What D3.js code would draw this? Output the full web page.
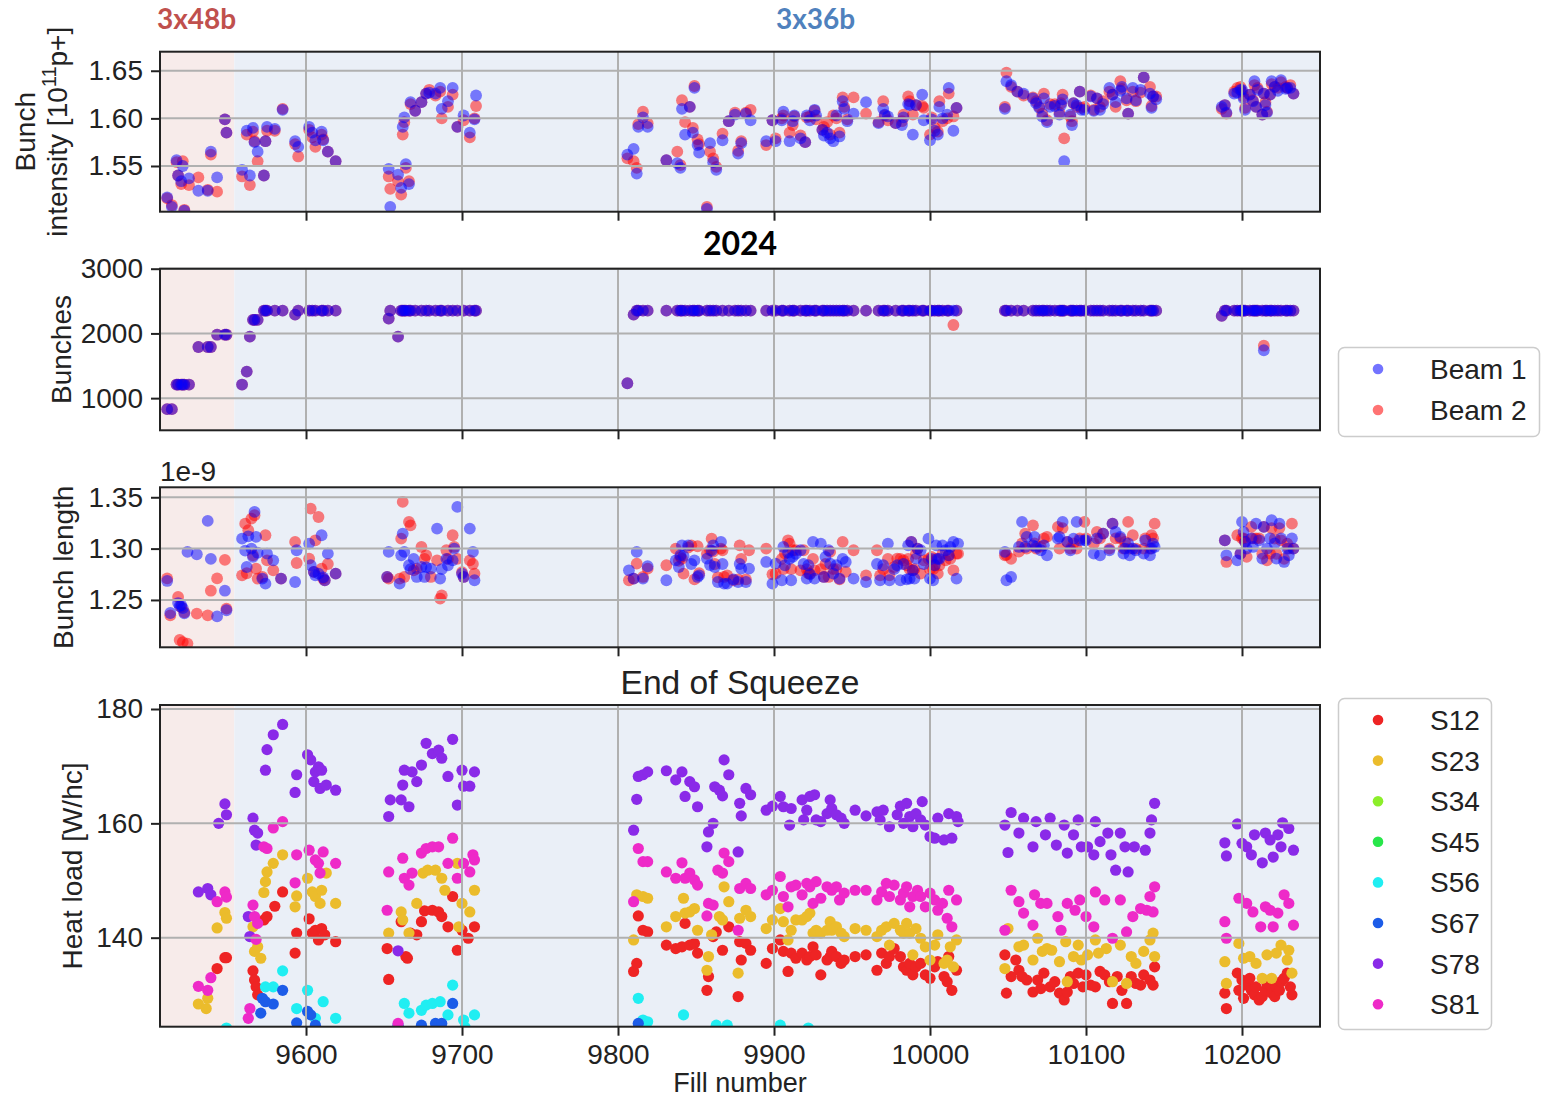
<!DOCTYPE html>
<html>
<head>
<meta charset="utf-8">
<title>LHC 2024 – beam parameters and arc heat loads</title>
<script src="https://cdn.jsdelivr.net/npm/d3@7/dist/d3.min.js"></script>
<style>
  html, body { margin: 0; padding: 0; background: #ffffff; }
  svg { display: block; }
</style>
</head>
<body>
<svg id="chart" width="1544" height="1098"></svg>
<script>
// ---------------------------------------------------------------------------
// Data
// ---------------------------------------------------------------------------
const fillTicks = [9600, 9700, 9800, 9900, 10000, 10100, 10200];
const intensityTicks = [1.55, 1.60, 1.65];
const bunchTicks = [1000, 2000, 3000];
const lengthTicks = [1.25, 1.30, 1.35];
const heatTicks = [140, 160, 180];

// first fill filled with 3x36b trains (earlier fills used 3x48b)
const firstFill36b = 9554;

// [fill, beam 1, beam 2] bunch intensity, 1e11 p
const intensityRows = [
  [9511,1.517,1.516],[9514,1.507,1.509],[9517,1.556,1.554],[9518,1.540,1.540],[9520,1.534,1.531],[9521,1.550,1.555],[9522,1.503,1.504],[9525,1.537,1.530],[9531,1.524,1.538],[9537,1.524,1.525],[9539,1.565,1.562],[9543,1.538,1.523],[9548,1.599,1.599],[9549,1.585,1.585],
  [9559,1.546,1.539],[9562,1.587,1.583],[9564,1.540,1.530],[9566,1.590,1.586],[9567,1.575,1.576],[9569,1.565,1.555],[9573,1.540,1.540],[9574,1.576,1.576],[9575,1.591,1.587],[9580,1.589,1.587],[9585,1.609,1.610],[9593,1.576,1.573],[9595,1.570,1.560],
  [9602,1.591,1.588],[9604,1.585,1.580],[9606,1.577,1.570],[9610,1.586,1.583],[9611,1.577,1.578],[9614,1.565,1.565],[9619,1.555,1.555],
  [9653,1.547,1.539],[9654,1.507,1.526],[9659,1.541,1.534],[9661,1.527,1.520],[9662,1.591,1.583],[9663,1.601,1.596],[9664,1.552,1.548],[9666,1.531,1.534],[9667,1.617,1.615],[9670,1.608,1.608],[9674,1.617,1.617],[9677,1.626,1.626],[9679,1.627,1.630],[9683,1.626,1.624],[9686,1.632,1.628],[9687,1.610,1.600],[9691,1.618,1.612],[9694,1.632,1.625],[9697,1.591,1.591],[9701,1.603,1.598],[9705,1.585,1.580],[9708,1.599,1.600],[9709,1.624,1.613],
  [9806,1.562,1.558],[9810,1.568,1.555],[9812,1.542,1.548],[9813,1.591,1.594],[9816,1.601,1.607],[9819,1.591,1.595],[9831,1.556,1.556],[9838,1.553,1.565],[9840,1.548,1.551],[9841,1.610,1.619],[9843,1.583,1.596],[9846,1.612,1.612],[9848,1.585,1.590],[9849,1.632,1.634],[9851,1.572,1.578],[9852,1.564,1.573],[9857,1.505,1.507],[9859,1.574,1.565],[9861,1.554,1.558],[9863,1.546,1.549],[9867,1.577,1.584],[9871,1.597,1.597],[9875,1.604,1.606],[9877,1.563,1.566],[9879,1.574,1.576],[9882,1.605,1.606],[9885,1.598,1.609],
  [9895,1.576,1.572],[9899,1.598,1.598],[9901,1.576,1.579],[9905,1.598,1.600],[9906,1.607,1.603],[9910,1.576,1.585],[9912,1.597,1.593],[9913,1.603,1.602],[9917,1.579,1.582],[9920,1.575,1.575],[9921,1.603,1.601],[9923,1.598,1.602],[9926,1.609,1.608],[9927,1.603,1.599],[9931,1.588,1.588],[9932,1.582,1.591],[9934,1.585,1.596],[9936,1.579,1.583],[9938,1.576,1.603],[9940,1.603,1.600],[9942,1.581,1.585],[9944,1.618,1.622],[9945,1.610,1.612],[9947,1.597,1.599],[9951,1.605,1.622],
  [9959,1.617,1.605],[9967,1.595,1.596],[9970,1.610,1.618],[9971,1.604,1.603],[9973,1.602,1.598],[9978,1.595,1.595],[9982,1.593,1.597],[9983,1.601,1.604],[9986,1.615,1.623],[9987,1.614,1.618],[9989,1.583,1.604],[9991,1.614,1.614],[9995,1.625,1.613],[9996,1.598,1.611],[10000,1.577,1.583],[10001,1.599,1.601],[10003,1.587,1.590],[10005,1.583,1.586],[10006,1.612,1.618],[10008,1.600,1.597],[10011,1.604,1.600],[10012,1.632,1.626],[10015,1.587,1.602],[10017,1.611,1.611],
  [10048,1.610,1.612],[10049,1.639,1.648],[10052,1.635,1.633],[10056,1.628,1.628],[10060,1.626,1.624],[10066,1.621,1.622],[10068,1.616,1.618],[10070,1.611,1.612],[10072,1.602,1.605],[10073,1.621,1.626],[10075,1.596,1.598],[10077,1.612,1.615],[10080,1.613,1.615],[10083,1.604,1.606],[10084,1.614,1.616],[10085,1.620,1.625],[10086,1.555,1.579],[10090,1.604,1.602],[10091,1.593,1.597],[10092,1.616,1.616],[10094,1.614,1.612],[10096,1.628,1.628],[10097,1.609,1.611],[10099,1.609,1.612],[10103,1.623,1.624],[10105,1.608,1.609],[10107,1.621,1.621],[10109,1.609,1.612],[10111,1.615,1.618],[10115,1.632,1.628],[10117,1.625,1.625],[10119,1.617,1.612],[10122,1.629,1.639],[10123,1.633,1.631],[10126,1.621,1.619],[10127,1.605,1.605],[10130,1.632,1.628],[10132,1.619,1.618],[10135,1.630,1.627],[10137,1.643,1.643],[10141,1.626,1.633],[10142,1.611,1.613],[10143,1.623,1.623],[10145,1.620,1.623],
  [10187,1.612,1.610],[10189,1.614,1.614],[10190,1.606,1.605],[10195,1.626,1.628],[10197,1.627,1.632],[10199,1.630,1.633],[10200,1.630,1.628],[10201,1.621,1.623],[10202,1.609,1.611],[10205,1.625,1.625],[10207,1.618,1.619],[10208,1.639,1.635],[10209,1.612,1.612],[10210,1.630,1.632],[10213,1.604,1.604],[10214,1.626,1.626],[10215,1.614,1.617],[10216,1.606,1.607],[10218,1.625,1.625],[10219,1.639,1.636],[10221,1.633,1.633],[10223,1.629,1.632],[10225,1.640,1.638],[10228,1.631,1.633],[10229,1.632,1.632],[10231,1.632,1.635],[10233,1.626,1.626]
];

// [fill, beam 1, beam 2] number of bunches
const bunchRows = [
  [9511,830,830],[9514,830,830],[9517,1210,1210],[9518,1210,1210],[9520,1210,1210],[9521,1210,1210],[9522,1210,1210],[9525,1210,1210],[9531,1790,1790],[9537,1790,1790],[9539,1790,1790],[9543,1980,1980],[9548,1980,1980],[9549,1980,1980],
  [9559,1210,1210],[9562,1410,1410],[9564,1950,1950],[9566,2210,2210],[9567,2210,2210],[9569,2210,2210],[9573,2352,2352],[9574,2352,2352],[9575,2352,2352],[9580,2352,2352],[9585,2352,2352],[9593,2290,2290],[9595,2352,2352],
  [9602,2352,2352],[9604,2352,2352],[9606,2352,2352],[9610,2352,2352],[9611,2352,2352],[9614,2352,2352],[9619,2352,2352],
  [9653,2230,2230],[9654,2352,2352],[9659,1950,1950],[9661,2352,2352],[9662,2352,2352],[9663,2352,2352],[9664,2352,2352],[9666,2352,2352],[9667,2352,2352],[9670,2352,2352],[9674,2352,2352],[9677,2352,2352],[9679,2352,2352],[9683,2352,2352],[9686,2352,2352],[9687,2352,2352],[9691,2352,2352],[9694,2352,2352],[9697,2352,2352],[9701,2352,2352],[9705,2352,2352],[9708,2352,2352],[9709,2352,2352],
  [9806,1230,1230],[9810,2290,2290],[9812,2352,2352],[9813,2352,2352],[9816,2352,2352],[9819,2352,2352],[9831,2352,2352],[9838,2352,2352],[9840,2352,2352],[9841,2352,2352],[9843,2352,2352],[9846,2352,2352],[9848,2352,2352],[9849,2352,2352],[9851,2352,2352],[9852,2352,2352],[9857,2352,2352],[9859,2352,2352],[9861,2352,2352],[9863,2352,2352],[9867,2352,2352],[9871,2352,2352],[9875,2352,2352],[9877,2352,2352],[9879,2352,2352],[9882,2352,2352],[9885,2352,2352],
  [9895,2352,2352],[9899,2352,2352],[9901,2352,2352],[9905,2352,2352],[9906,2352,2352],[9910,2352,2352],[9912,2352,2352],[9913,2352,2352],[9917,2352,2352],[9920,2352,2352],[9921,2352,2352],[9923,2352,2352],[9926,2352,2352],[9927,2352,2352],[9931,2352,2352],[9932,2352,2352],[9934,2352,2352],[9936,2352,2352],[9938,2352,2352],[9940,2352,2352],[9942,2352,2352],[9944,2352,2352],[9945,2352,2352],[9947,2352,2352],[9951,2352,2352],
  [9959,2352,2352],[9967,2352,2352],[9970,2352,2352],[9971,2352,2352],[9973,2352,2352],[9978,2352,2352],[9982,2352,2352],[9983,2352,2352],[9986,2352,2352],[9987,2352,2352],[9989,2352,2352],[9991,2352,2352],[9995,2352,2352],[9996,2352,2352],[10000,2352,2352],[10001,2352,2352],[10003,2352,2352],[10005,2352,2352],[10006,2352,2352],[10008,2352,2352],[10011,2352,2352],[10012,2352,2352],[10015,2352,2130],[10017,2352,2352],
  [10048,2352,2352],[10049,2352,2352],[10052,2352,2352],[10056,2352,2352],[10060,2352,2352],[10066,2352,2352],[10068,2352,2352],[10070,2352,2352],[10072,2352,2352],[10073,2352,2352],[10075,2352,2352],[10077,2352,2352],[10080,2352,2352],[10083,2352,2352],[10084,2352,2352],[10085,2352,2352],[10086,2352,2352],[10090,2352,2352],[10091,2352,2352],[10092,2352,2352],[10094,2352,2352],[10096,2352,2352],[10097,2352,2352],[10099,2352,2352],[10103,2352,2352],[10105,2352,2352],[10107,2352,2352],[10109,2352,2352],[10111,2352,2352],[10115,2352,2352],[10117,2352,2352],[10119,2352,2352],[10122,2352,2352],[10123,2352,2352],[10126,2352,2352],[10127,2352,2352],[10130,2352,2352],[10132,2352,2352],[10135,2352,2352],[10137,2352,2352],[10141,2352,2352],[10142,2352,2352],[10143,2352,2352],[10145,2352,2352],
  [10187,2270,2270],[10189,2352,2352],[10190,2352,2352],[10195,2352,2352],[10197,2352,2352],[10199,2352,2352],[10200,2352,2352],[10201,2352,2352],[10202,2352,2352],[10205,2352,2352],[10207,2352,2352],[10208,2352,2352],[10209,2352,2352],[10210,2352,2352],[10213,2352,2352],[10214,1740,1810],[10215,2352,2352],[10216,2352,2352],[10218,2352,2352],[10219,2352,2352],[10221,2352,2352],[10223,2352,2352],[10225,2352,2352],[10228,2352,2352],[10229,2352,2352],[10231,2352,2352],[10233,2352,2352]
];

// [fill, beam 1, beam 2] bunch length, ns (axis shows seconds with a 1e-9 offset)
const lengthRows = [
  [9511,1.2685,1.271],[9513,1.2373,1.235],[9518,1.247,1.253],[9519,1.244,1.211],[9520,1.245,1.243],[9521,1.242,1.209],[9522,1.237,1.238],[9524,1.2968,1.2075],[9530,1.2945,1.2367],[9537,1.327,1.235],[9539,1.290,1.259],[9543,1.234,1.271],[9548,1.259,1.289],[9549,1.240,1.2415],
  [9559,1.3097,1.274],[9561,1.298,1.3243],[9562,1.2821,1.276],[9563,1.312,1.3179],[9565,1.300,1.3292],[9566,1.2919,1.2935],[9567,1.3357,1.3325],[9568,1.3114,1.2805],[9569,1.296,1.2708],[9572,1.2708,1.2724],[9574,1.2659,1.313],[9575,1.2951,1.2886],[9579,1.2886,1.2789],[9584,1.2708,1.2708],[9593,1.2675,1.3065],[9594,1.2984,1.286],
  [9602,1.3049,1.2903],[9603,1.2838,1.339],[9605,1.2773,1.2773],[9606,1.274,1.3081],[9608,1.2756,1.3308],[9610,1.313,1.2805],[9611,1.272,1.2708],[9612,1.2692,1.2692],[9614,1.2951,1.285],[9619,1.2756,1.2756],
  [9652,1.2724,1.2724],[9653,1.2968,1.2708],[9660,1.2659,1.2708],[9661,1.2935,1.3097],[9662,1.3146,1.3455],[9663,1.2968,1.2724],[9666,1.2838,1.326],[9667,1.280,1.3227],[9669,1.290,1.2789],[9671,1.2724,1.2805],[9674,1.2821,1.3016],[9676,1.2724,1.290],[9677,1.282,1.2935],[9680,1.2805,1.2724],[9684,1.3195,1.2886],[9686,1.2708,1.2513],[9687,1.280,1.2545],[9690,1.290,1.2984],[9691,1.2838,1.290],[9694,1.2886,1.313],[9695,1.300,1.3016],[9697,1.3406,1.290],[9700,1.2756,1.277],[9701,1.2724,1.2724],[9705,1.3195,1.2886],[9707,1.2968,1.285],[9708,1.2692,1.2756],
  [9807,1.2789,1.2692],[9810,1.2708,1.2708],[9812,1.2968,1.2854],[9816,1.2708,1.2724],[9819,1.2828,1.2805],[9831,1.2692,1.2838],
  [9837,1.2886,1.300],[9839,1.2821,1.288],[9840,1.2935,1.292],[9841,1.3032,1.290],[9842,1.293,1.2756],[9845,1.3032,1.301],[9847,1.285,1.3032],[9849,1.2886,1.270],[9851,1.2724,1.3023],[9852,1.274,1.276],[9857,1.2903,1.295],[9859,1.284,1.2984],[9860,1.298,1.3097],[9861,1.3032,1.297],[9862,1.2821,1.285],[9864,1.2675,1.272],[9866,1.3065,1.300],[9867,1.285,1.2984],[9868,1.2659,1.2724],[9870,1.2659,1.274],[9874,1.270,1.2692],[9877,1.2675,1.270],[9878,1.285,1.3032],[9879,1.2805,1.290],[9882,1.2675,1.270],[9884,1.2805,1.2984],
  [9895,1.287,1.300],[9899,1.2659,1.275],[9901,1.2854,1.2756],[9905,1.2692,1.290],[9906,1.3016,1.280],[9907,1.2838,1.2955],[9909,1.296,1.3081],[9910,1.290,1.3049],[9911,1.2692,1.280],[9912,1.2919,1.2984],[9914,1.295,1.2984],[9917,1.2984,1.2789],[9919,1.285,1.2984],[9921,1.2708,1.280],[9922,1.2838,1.276],[9923,1.275,1.2756],[9925,1.3065,1.290],[9926,1.2708,1.2789],[9930,1.3049,1.280],[9932,1.2724,1.2724],[9933,1.2919,1.285],[9935,1.2984,1.2724],[9936,1.2854,1.2968],[9938,1.2756,1.280],[9940,1.2838,1.280],[9942,1.2708,1.270],[9944,1.290,1.3065],[9946,1.287,1.2773],[9951,1.2708,1.2984],
  [9959,1.2675,1.274],[9966,1.285,1.2984],[9968,1.2692,1.274],[9970,1.2838,1.280],[9973,1.3049,1.290],[9974,1.2692,1.274],[9977,1.280,1.2821],[9979,1.2838,1.2903],[9981,1.2692,1.290],[9983,1.285,1.2886],[9985,1.270,1.2838],[9986,1.3032,1.290],[9987,1.2708,1.280],[9988,1.3065,1.3065],[9989,1.2789,1.2789],[9990,1.2708,1.280],[9991,1.2903,1.295],[9992,1.300,1.300],[9994,1.2984,1.2756],[9996,1.285,1.2886],[9999,1.3097,1.290],[10000,1.2708,1.280],[10001,1.290,1.2919],[10002,1.2692,1.280],[10003,1.2838,1.2838],[10004,1.3032,1.290],[10005,1.290,1.2756],[10006,1.290,1.2838],[10008,1.3032,1.295],[10010,1.2984,1.2886],[10012,1.2935,1.2935],[10013,1.3016,1.290],[10015,1.3065,1.2789],[10017,1.2708,1.2951],[10018,1.3049,1.2951],
  [10048,1.2968,1.2935],[10049,1.2692,1.294],[10052,1.2724,1.290],[10057,1.3016,1.297],[10059,1.326,1.305],[10061,1.3016,1.3146],[10062,1.3114,1.300],[10066,1.3032,1.3227],[10067,1.3114,1.305],[10068,1.3016,1.300],[10071,1.2984,1.302],[10073,1.3032,1.310],[10075,1.2935,1.3114],[10082,1.3097,1.3211],[10083,1.3114,1.300],[10085,1.326,1.320],[10088,1.3065,1.3065],[10090,1.2984,1.300],[10092,1.3097,1.305],[10094,1.326,1.300],[10096,1.3081,1.310],[10099,1.3081,1.326],[10100,1.3081,1.310],[10105,1.2951,1.305],[10107,1.310,1.3162],[10109,1.2935,1.310],[10111,1.3146,1.3146],[10115,1.2984,1.300],[10117,1.3243,1.3243],[10119,1.3162,1.310],[10122,1.3114,1.310],[10124,1.2951,1.300],[10125,1.300,1.3065],[10127,1.305,1.326],[10128,1.2935,1.300],[10130,1.300,1.313],[10132,1.2984,1.300],[10137,1.2951,1.300],[10138,1.3081,1.310],[10141,1.2935,1.300],[10142,1.300,1.313],[10143,1.3049,1.310],[10144,1.3016,1.3243],
  [10189,1.3081,1.3081],[10190,1.2935,1.287],[10197,1.2886,1.313],[10199,1.295,1.2951],[10200,1.326,1.310],[10201,1.3162,1.310],[10202,1.3065,1.3065],[10203,1.300,1.2919],[10206,1.310,1.3211],[10207,1.3016,1.310],[10209,1.3243,1.310],[10211,1.3081,1.310],[10213,1.2903,1.295],[10214,1.3211,1.3211],[10216,1.300,1.2886],[10218,1.310,1.2951],[10219,1.3276,1.320],[10221,1.305,1.3097],[10222,1.2903,1.295],[10224,1.3243,1.320],[10225,1.310,1.3081],[10227,1.287,1.290],[10229,1.300,1.3049],[10230,1.2935,1.300],[10232,1.310,1.3243],[10233,1.300,1.300]
];

// Heat load per arc sector at end of squeeze, [fill, W/half-cell]
const heatS12 = [
  [9543,134.6],[9548,136.5],[9549,136.5],[9566,134.2],[9567,132.6],[9568,131.4],[9569,130.0],[9573,143.1],[9575,143.7],[9580,145.5],[9585,148.0],[9593,137.3],[9594,140.8],[9602,143.3],[9604,140.8],[9606,141.3],[9608,139.6],[9610,141.6],[9612,140.5],[9619,139.3],
  [9652,138.1],[9653,132.7],[9661,142.8],[9664,136.7],[9665,136.4],[9667,140.8],[9671,140.5],[9674,142.8],[9676,144.7],[9681,144.8],[9685,144.5],[9687,143.7],[9691,141.9],[9694,147.2],[9697,137.8],[9700,141.3],[9704,139.9],[9708,141.9],
  [9810,134.1],[9812,135.5],[9813,143.8],[9816,141.3],[9819,141.0],[9831,138.7],[9837,138.1],[9841,138.4],[9843,142.5],[9846,138.7],[9849,139.0],[9851,137.3],[9857,130.8],[9858,133.2],[9861,140.2],[9863,141.0],[9867,137.8],[9871,141.9],[9877,129.7],[9878,139.3],[9879,136.1],[9882,139.0],[9885,137.8],
  [9895,135.5],[9899,138.1],[9904,139.6],[9906,137.6],[9909,134.1],[9911,137.3],[9914,136.4],[9918,137.3],[9921,136.1],[9923,136.7],[9925,138.4],[9927,137.0],[9930,133.5],[9934,136.1],[9936,136.7],[9937,137.6],[9940,136.7],[9943,135.5],[9945,136.1],[9952,136.7],[9959,137.0],[9966,134.3],[9969,137.3],[9972,135.5],[9974,136.7],[9977,138.1],[9981,136.7],[9983,134.9],[9985,134.3],[9987,135.5],[9989,133.5],[9991,134.9],[9994,135.5],[9997,133.5],[10000,132.9],[10003,134.9],[10005,135.8],[10009,133.2],[10011,132.3],[10012,136.7],[10014,130.8],[10017,134.3],
  [10048,137.0],[10049,130.3],[10052,133.2],[10055,136.1],[10057,134.3],[10059,133.2],[10062,132.6],[10066,130.5],[10069,132.6],[10071,131.1],[10073,133.8],[10077,131.4],[10080,132.3],[10083,130.3],[10086,129.1],[10088,130.5],[10090,133.2],[10092,132.0],[10095,133.8],[10098,131.4],[10100,133.5],[10103,131.7],[10106,131.4],[10109,134.1],[10112,133.5],[10115,132.3],[10117,128.5],[10120,133.2],[10123,130.8],[10126,128.5],[10129,133.2],[10132,132.0],[10135,131.7],[10137,133.5],[10141,132.6],[10143,131.7],[10144,134.9],
  [10189,130.3],[10190,127.6],[10197,133.8],[10198,130.8],[10200,132.6],[10201,129.4],[10203,131.7],[10205,132.9],[10206,130.8],[10208,130.0],[10209,131.4],[10211,129.1],[10213,129.7],[10215,130.8],[10216,132.0],[10218,131.7],[10219,130.3],[10221,129.7],[10222,131.4],[10224,130.8],[10225,132.3],[10227,132.9],[10229,133.8],[10231,131.4],[10232,130.0]
];
const heatS23 = [
  [9531,128.4],[9536,127.6],[9537,129.4],[9543,141.7],[9548,144.4],[9549,143.4],[9566,141.9],[9567,137.6],[9569,138.4],[9571,136.4],[9573,147.9],[9574,149.8],[9575,151.5],[9579,153.0],[9585,154.5],[9593,145.4],[9594,147.3],[9601,150.4],[9604,148.0],[9606,147.2],[9609,146.0],[9610,148.3],[9613,151.3],[9619,146.0],
  [9653,140.8],[9661,144.5],[9662,143.1],[9666,140.8],[9671,146.0],[9675,151.3],[9678,151.8],[9683,151.8],[9687,150.4],[9689,148.3],[9697,153.0],[9698,141.9],[9700,146.0],[9705,144.5],[9708,148.3],
  [9810,139.6],[9812,147.5],[9816,147.2],[9819,146.9],[9831,141.9],[9837,143.7],[9842,146.9],[9843,144.3],[9846,144.5],[9849,145.1],[9851,141.3],[9857,134.3],[9858,136.7],[9860,140.5],[9865,143.7],[9867,143.1],[9868,148.9],[9871,146.3],[9877,133.8],[9878,143.4],[9882,144.8],[9885,143.7],
  [9895,141.6],[9899,143.1],[9904,145.1],[9906,142.8],[9909,139.6],[9911,141.3],[9914,143.1],[9918,143.1],[9921,143.7],[9923,144.3],[9925,140.8],[9927,141.3],[9930,140.8],[9934,141.3],[9936,142.8],[9937,141.3],[9940,141.9],[9943,140.8],[9945,140.2],[9952,141.6],[9959,141.3],[9966,140.2],[9969,141.3],[9972,141.9],[9974,138.7],[9977,142.5],[9981,141.3],[9983,140.8],[9985,142.5],[9987,140.8],[9989,137.0],[9991,141.6],[9994,139.9],[9997,138.4],[10000,136.1],[10003,138.7],[10005,140.5],[10009,135.5],[10011,136.1],[10013,138.4],[10015,134.9],[10017,139.6],
  [10048,134.6],[10050,141.6],[10057,138.4],[10060,138.7],[10066,136.1],[10069,139.9],[10072,137.6],[10075,138.1],[10078,137.8],[10083,135.8],[10087,139.3],[10088,132.3],[10092,136.7],[10095,138.7],[10097,136.1],[10101,137.0],[10106,139.6],[10108,137.3],[10113,138.1],[10117,132.3],[10122,138.7],[10126,132.0],[10129,136.7],[10132,135.5],[10137,137.6],[10141,139.6],[10143,140.8],[10144,136.7],
  [10189,135.8],[10190,132.0],[10198,139.0],[10201,136.4],[10205,136.7],[10209,135.5],[10213,132.9],[10216,137.0],[10219,132.9],[10222,137.3],[10225,138.7],[10229,136.1],[10230,137.8],[10232,133.8]
];
// S34 and S45 have no points inside the plotted window
const heatS34 = [];
const heatS45 = [];
const heatS56 = [
  [9549,124.2],[9574,131.4],[9579,131.4],[9585,134.2],[9594,127.6],[9601,130.8],[9606,125.9],[9611,128.8],[9619,125.9],
  [9663,128.5],[9666,126.8],[9674,127.3],[9677,128.2],[9681,128.5],[9686,128.8],[9691,126.5],[9694,131.7],[9701,125.6],[9702,124.3],[9708,126.5],
  [9813,129.4],[9816,125.6],[9819,125.3],[9842,126.5],[9863,124.7],[9870,124.7],[9904,124.7],[9922,124.2]
];
const heatS67 = [
  [9571,126.8],[9572,129.4],[9574,128.8],[9579,128.4],[9585,130.8],[9594,125.1],[9601,127.1],[9603,126.5],[9606,124.7],
  [9659,124.7],[9674,124.7],[9683,125.0],[9687,125.0],[9694,128.5],[9813,125.0]
];
const heatS78 = [
  [9531,148.0],[9537,148.6],[9539,147.5],[9544,160.0],[9548,163.4],[9549,161.5],[9563,143.7],[9564,140.2],[9566,160.9],[9567,158.8],[9568,156.2],[9569,158.3],[9574,169.3],[9575,172.9],[9579,175.5],[9585,177.3],[9593,165.4],[9594,168.5],[9601,172.0],[9603,171.1],[9605,167.3],[9606,169.0],[9608,169.9],[9609,166.1],[9610,169.3],[9613,166.7],[9619,165.8],
  [9653,161.2],[9654,164.1],[9659,137.7],[9661,164.1],[9662,166.7],[9663,169.3],[9666,162.9],[9668,169.0],[9671,167.3],[9674,170.2],[9677,174.0],[9681,172.2],[9685,172.8],[9687,171.4],[9691,168.2],[9694,174.7],[9697,163.2],[9700,169.3],[9701,166.5],[9705,166.5],[9708,169.0],
  [9810,158.8],[9812,164.2],[9813,168.2],[9816,168.5],[9819,169.0],[9831,169.2],[9837,167.6],[9841,169.0],[9843,164.7],[9846,167.3],[9849,166.4],[9851,162.9],[9857,155.9],[9858,158.5],[9861,160.0],[9862,166.4],[9865,165.8],[9867,164.8],[9868,171.1],[9871,168.5],[9877,155.0],[9878,163.5],[9879,161.3],[9882,166.1],[9885,165.0],
  [9895,162.3],[9899,163.0],[9904,164.7],[9906,162.9],[9910,159.7],[9911,162.6],[9918,164.1],[9919,160.6],[9921,162.3],[9923,164.7],[9926,165.0],[9927,160.6],[9930,160.3],[9934,161.7],[9936,164.1],[9937,162.6],[9940,161.5],[9943,160.9],[9945,160.0],[9952,162.3],[9959,161.3],[9966,162.0],[9968,160.6],[9970,162.3],[9974,159.4],[9979,161.5],[9981,163.0],[9983,160.0],[9985,163.5],[9987,161.2],[9989,159.4],[9991,161.7],[9994,160.6],[9995,163.8],[9997,159.7],[10000,157.7],[10003,157.4],[10005,160.9],[10009,157.1],[10012,161.7],[10014,157.4],[10017,161.2],[10018,160.3],
  [10048,159.7],[10050,154.9],[10052,161.9],[10057,158.3],[10060,160.9],[10066,155.9],[10068,160.3],[10074,158.0],[10077,160.9],[10081,156.2],[10086,159.7],[10088,154.8],[10092,158.0],[10095,160.6],[10097,155.9],[10101,155.9],[10105,154.5],[10106,160.3],[10109,156.8],[10114,158.3],[10116,154.5],[10119,151.8],[10122,158.3],[10125,155.9],[10127,151.5],[10131,155.9],[10138,155.3],[10141,158.3],[10142,160.6],[10144,163.5],
  [10189,156.6],[10190,154.3],[10197,159.9],[10200,156.5],[10203,155.9],[10206,154.5],[10208,158.0],[10213,153.1],[10215,158.3],[10218,157.1],[10220,154.1],[10223,158.0],[10225,155.9],[10226,160.1],[10230,159.1],[10233,155.3]
];
const heatS81 = [
  [9531,131.5],[9537,130.8],[9539,133.0],[9543,146.3],[9548,148.0],[9549,147.1],[9563,125.9],[9564,127.6],[9566,145.7],[9567,143.7],[9568,139.7],[9569,142.5],[9573,155.9],[9575,155.6],[9579,159.2],[9585,160.3],[9593,149.6],[9594,154.5],[9602,155.3],[9606,153.6],[9608,153.0],[9609,151.3],[9611,155.0],[9619,153.0],
  [9652,144.8],[9653,151.5],[9659,125.0],[9662,153.9],[9663,150.4],[9666,149.2],[9668,151.3],[9674,154.8],[9677,155.6],[9681,155.9],[9685,155.9],[9691,153.0],[9694,157.4],[9697,150.4],[9701,153.0],[9705,151.5],[9707,154.5],[9708,153.6],
  [9810,146.3],[9813,155.6],[9816,153.3],[9819,153.3],[9831,151.5],[9837,150.4],[9841,153.1],[9843,150.4],[9846,151.3],[9849,150.1],[9851,149.2],[9857,143.8],[9858,146.0],[9861,145.7],[9864,151.8],[9867,151.3],[9868,154.8],[9871,153.3],[9877,141.3],[9878,148.6],[9882,149.5],[9885,148.6],
  [9895,147.5],[9899,148.3],[9904,150.7],[9906,147.2],[9909,145.4],[9911,148.9],[9914,149.2],[9918,147.5],[9921,149.5],[9923,148.9],[9925,146.0],[9927,149.8],[9930,146.9],[9934,148.9],[9937,148.3],[9940,148.9],[9942,146.6],[9945,147.8],[9952,148.3],[9959,148.3],[9966,146.6],[9969,148.0],[9972,149.5],[9974,147.2],[9977,149.2],[9981,146.6],[9983,147.8],[9985,148.9],[9987,145.4],[9989,147.2],[9992,148.3],[9994,147.2],[9997,145.4],[10000,147.8],[10003,146.6],[10005,144.8],[10008,146.0],[10011,143.4],[10012,148.3],[10014,141.9],[10017,146.6],
  [10048,141.3],[10052,148.3],[10057,146.3],[10060,144.3],[10066,142.2],[10067,147.5],[10071,146.0],[10075,146.0],[10082,143.7],[10084,141.3],[10088,146.0],[10093,144.8],[10096,146.6],[10100,143.7],[10105,141.9],[10106,148.0],[10112,146.6],[10117,139.9],[10122,146.6],[10126,141.0],[10130,143.7],[10135,145.1],[10139,144.8],[10141,147.2],[10143,144.5],[10144,148.9],
  [10189,142.8],[10190,139.9],[10198,146.9],[10203,146.0],[10207,144.5],[10212,141.9],[10215,145.4],[10218,144.8],[10220,141.9],[10223,144.3],[10227,147.5],[10230,146.0],[10233,142.2]
];

const sectorNames = ['S12', 'S23', 'S34', 'S45', 'S56', 'S67', 'S78', 'S81'];
const beamNames = ['Beam 1', 'Beam 2'];

// ---------------------------------------------------------------------------
// Styling / layout
// ---------------------------------------------------------------------------
const sectorColors = ['#ee2424', '#ebbc2c', '#8cee2a', '#28e64a', '#20eef2', '#1c5ce8', '#8a2ae8', '#ee2ac8'];
const beamColors = ['#0000ff', '#ff0000'];
const FONT = "'Liberation Sans', Arial, Helvetica, sans-serif";
const FS = 28;
const INK = '#222222';
const plotLeft = 160, plotRight = 1320;
const beamRadius = 5.9;
const sectorRadius = 5.6;

const sectorSeries = [heatS12, heatS23, heatS34, heatS45, heatS56, heatS67, heatS78, heatS81];

const svg = d3.select('#chart');
const defs = svg.append('defs');

const x = d3.scaleLinear().domain([9506.4, 10250]).range([plotLeft, plotRight]);

function drawBeams(layer, y, rows) {
  // Beam 2 underneath, Beam 1 on top
  layer.append('g').selectAll('circle').data(rows).join('circle')
    .attr('cx', d => x(d[0])).attr('cy', d => y(d[2])).attr('r', beamRadius)
    .attr('fill', beamColors[1]).attr('fill-opacity', 0.5);
  layer.append('g').selectAll('circle').data(rows).join('circle')
    .attr('cx', d => x(d[0])).attr('cy', d => y(d[1])).attr('r', beamRadius)
    .attr('fill', beamColors[0]).attr('fill-opacity', 0.5);
}

function drawSectors(layer, y) {
  sectorSeries.forEach((series, i) => {
    layer.append('g').selectAll('circle').data(series).join('circle')
      .attr('cx', d => x(d[0])).attr('cy', d => y(d[1])).attr('r', sectorRadius)
      .attr('fill', sectorColors[i]);
  });
}

const panels = [
  { key: 'intensity', top: 51.7, bottom: 211.7, domain: [1.502, 1.670], ticks: intensityTicks, fmt: '.2f',
    draw: (g, y) => drawBeams(g, y, intensityRows), xLabels: false },
  { key: 'bunches', top: 268.7, bottom: 430.3, domain: [503, 3000], ticks: bunchTicks, fmt: 'd',
    draw: (g, y) => drawBeams(g, y, bunchRows), xLabels: false },
  { key: 'length', top: 487.3, bottom: 647.3, domain: [1.2039, 1.3597], ticks: lengthTicks, fmt: '.2f',
    draw: (g, y) => drawBeams(g, y, lengthRows), xLabels: false },
  { key: 'heat', top: 705, bottom: 1026.7, domain: [124.43, 180.7], ticks: heatTicks, fmt: 'd',
    draw: (g, y) => drawSectors(g, y), xLabels: true }
];

function styleAxis(sel) {
  sel.attr('font-family', FONT).attr('font-size', FS);
  sel.select('.domain').remove();
  sel.selectAll('.tick line').attr('stroke', INK).attr('stroke-width', 2);
  sel.selectAll('.tick text').attr('fill', INK);
}

panels.forEach(p => {
  const y = d3.scaleLinear().domain(p.domain).range([p.bottom, p.top]);
  const h = p.bottom - p.top;
  const g = svg.append('g').attr('class', 'panel-' + p.key);

  const clipId = 'clip-' + p.key;
  defs.append('clipPath').attr('id', clipId)
    .append('rect').attr('x', plotLeft).attr('y', p.top).attr('width', plotRight - plotLeft).attr('height', h);

  // filling-scheme bands
  g.append('rect').attr('x', plotLeft).attr('y', p.top)
    .attr('width', x(firstFill36b) - plotLeft).attr('height', h).attr('fill', '#f7ebea');
  g.append('rect').attr('x', x(firstFill36b)).attr('y', p.top)
    .attr('width', plotRight - x(firstFill36b)).attr('height', h).attr('fill', '#eaeff7');

  const marks = g.append('g').attr('clip-path', `url(#${clipId})`);
  p.draw(marks, y);

  // grid
  const grid = g.append('g').attr('stroke', '#b0b0b0').attr('stroke-width', 2);
  grid.selectAll('line.v').data(fillTicks).join('line').attr('class', 'v')
    .attr('x1', d => x(d)).attr('x2', d => x(d)).attr('y1', p.top).attr('y2', p.bottom);
  grid.selectAll('line.h').data(p.ticks).join('line').attr('class', 'h')
    .attr('x1', plotLeft).attr('x2', plotRight).attr('y1', d => y(d)).attr('y2', d => y(d));

  // frame
  g.append('rect').attr('x', plotLeft).attr('y', p.top).attr('width', plotRight - plotLeft).attr('height', h)
    .attr('fill', 'none').attr('stroke', INK).attr('stroke-width', 2);

  // axes
  g.append('g').attr('transform', `translate(${plotLeft},0)`)
    .call(d3.axisLeft(y).tickValues(p.ticks).tickFormat(d3.format(p.fmt)).tickSize(9).tickPadding(8))
    .call(styleAxis);
  g.append('g').attr('transform', `translate(0,${p.bottom})`)
    .call(d3.axisBottom(x).tickValues(fillTicks).tickSize(9).tickPadding(8)
      .tickFormat(p.xLabels ? d3.format('d') : () => ''))
    .call(styleAxis);
});

// ---------------------------------------------------------------------------
// Axis titles and annotations
// ---------------------------------------------------------------------------
function vLabel(xPos, yPos, text) {
  return svg.append('text').attr('transform', `translate(${xPos},${yPos}) rotate(-90)`)
    .attr('text-anchor', 'middle').attr('font-family', FONT).attr('font-size', FS).attr('fill', INK).text(text);
}
vLabel(35, 131.7, 'Bunch');
const il = svg.append('text').attr('transform', 'translate(67,131.7) rotate(-90)')
  .attr('text-anchor', 'middle').attr('font-family', FONT).attr('font-size', FS).attr('fill', INK);
il.append('tspan').text('intensity [10');
il.append('tspan').attr('dy', -11).attr('font-size', 20).text('11');
il.append('tspan').attr('dy', 11).text('p+]');
vLabel(71, 349.5, 'Bunches');
vLabel(73, 567.3, 'Bunch length');
vLabel(82, 866, 'Heat load [W/hc]');

svg.append('text').attr('x', plotLeft).attr('y', 481).attr('font-family', FONT).attr('font-size', FS)
  .attr('fill', INK).text('1e-9');

svg.append('text').attr('x', 740).attr('y', 694).attr('text-anchor', 'middle')
  .attr('font-family', FONT).attr('font-size', 33.6).attr('fill', INK).text('End of Squeeze');
svg.append('text').attr('x', 740).attr('y', 1092).attr('text-anchor', 'middle')
  .attr('font-family', FONT).attr('font-size', 27).attr('fill', INK).text('Fill number');

const ANNOT = "Lato, 'Open Sans', sans-serif";
svg.append('text').attr('x', 157).attr('y', 29).attr('font-family', ANNOT).attr('font-weight', 700)
  .attr('font-size', 28).attr('fill', '#c0504d').text('3x48b');
svg.append('text').attr('x', 776).attr('y', 29).attr('font-family', ANNOT).attr('font-weight', 700)
  .attr('font-size', 28).attr('fill', '#4f81bd').text('3x36b');
svg.append('text').attr('x', 740).attr('y', 255).attr('text-anchor', 'middle').attr('font-family', ANNOT)
  .attr('font-weight', 700).attr('font-size', 32).attr('fill', '#000').text('2024');

// ---------------------------------------------------------------------------
// Legends
// ---------------------------------------------------------------------------
function legend(x0, y0, w, h, names, colors, opacity, firstY, step) {
  const lg = svg.append('g');
  lg.append('rect').attr('x', x0).attr('y', y0).attr('width', w).attr('height', h).attr('rx', 6)
    .attr('fill', '#ffffff').attr('fill-opacity', 0.8).attr('stroke', '#cccccc').attr('stroke-width', 1.5);
  names.forEach((n, i) => {
    const cy = firstY + i * step;
    lg.append('circle').attr('cx', 1378).attr('cy', cy).attr('r', 5.3)
      .attr('fill', colors[i]).attr('fill-opacity', opacity);
    lg.append('text').attr('x', 1430).attr('y', cy + 10).attr('font-family', FONT).attr('font-size', FS)
      .attr('fill', INK).text(n);
  });
}
legend(1338.5, 347.5, 201, 89, beamNames, beamColors, 0.55, 369, 41);
legend(1338.5, 698.5, 153, 331, sectorNames, sectorColors, 1, 720, 40.6);
</script>
</body>
</html>
